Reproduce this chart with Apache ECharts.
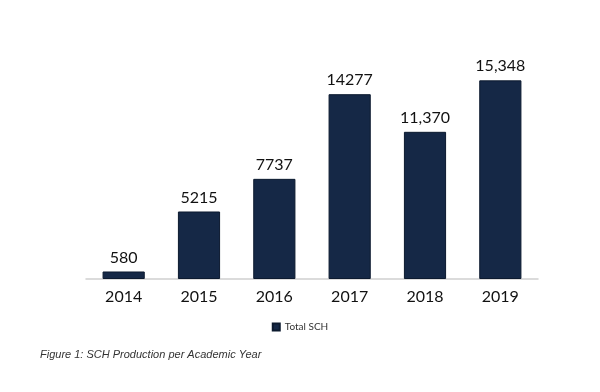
<!DOCTYPE html>
<html><head><meta charset="utf-8">
<script src="https://cdn.jsdelivr.net/npm/echarts@6/dist/echarts.min.js"></script>
<style>html,body{margin:0;padding:0;background:#fff}#c{width:600px;height:392px}</style>
</head><body><div id="c"></div>
<script>
const categories = ['2014','2015','2016','2017','2018','2019'];
const totalSCH = [580, 5215, 7737, 14277, 11370, 15348];
const valueLabels = ['580','5215','7737','14277','11,370','15,348'];
const seriesName = 'Total SCH';
const caption = 'Figure 1: SCH Production per Academic Year';

const chart = echarts.init(document.getElementById('c'));
chart.setOption({
  animation: false,
  grid: {left: 86, right: 62, top: 46, bottom: 113},
  legend: {data: [seriesName], bottom: 55, left: 'center', itemWidth: 7, itemHeight: 7, itemGap: 4,
    icon: 'rect', textStyle: {fontFamily: 'Lato', fontSize: 10, color: '#333'}},
  graphic: [{type: 'text', left: 40, top: 349, style: {text: caption, fontFamily: 'Liberation Sans', fontStyle: 'italic', fontSize: 11, fill: '#333'}}],
  xAxis: {type: 'category', data: categories,
    axisLine: {lineStyle: {color: '#d0d0d0', width: 1.5}}, axisTick: {show: false},
    axisLabel: {fontFamily: 'Lato', fontSize: 16, color: '#111', margin: 10}},
  yAxis: {type: 'value', min: 0, max: 18000, show: false, splitLine: {show: false}},
  series: [{name: seriesName, type: 'bar', data: totalSCH, barWidth: '56%',
    itemStyle: {color: '#152846', borderColor: '#0c1a2f', borderWidth: 1},
    label: {show: true, position: 'top', distance: 6, fontFamily: 'Lato', fontSize: 16, color: '#111',
      formatter: p => valueLabels[p.dataIndex]}}]
});
</script></body></html>
